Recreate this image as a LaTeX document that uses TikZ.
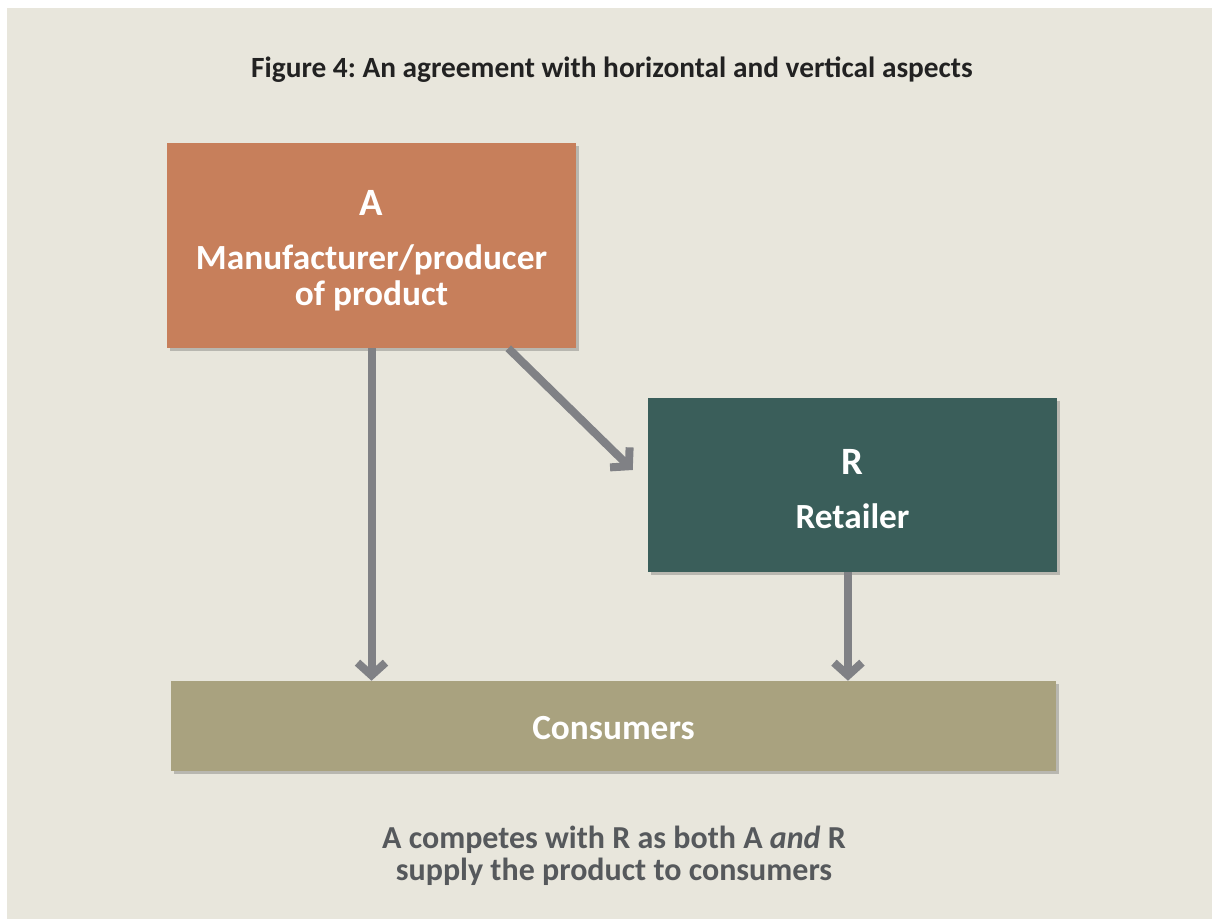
\documentclass[tikz,border=0pt]{standalone}
\usepackage{fontspec}
\setmainfont{Carlito}
\frenchspacing
\usetikzlibrary{arrows.meta,shadows}
\definecolor{bg}{HTML}{E8E6DC}
\definecolor{boxA}{HTML}{C77F5B}
\definecolor{boxR}{HTML}{3A5E5A}
\definecolor{boxC}{HTML}{A9A27F}
\definecolor{arrgray}{HTML}{808185}
\definecolor{titlecol}{HTML}{222222}
\definecolor{notecol}{HTML}{56595C}
\tikzset{
  box/.style={draw=none, inner sep=0pt, drop shadow={shadow xshift=2.5pt, shadow yshift=-2.5pt, opacity=0.3, fill=black!70}},
  boxtext/.style={text=white, font=\bfseries\fontsize{26.5}{28}\selectfont, anchor=base, inner sep=0pt},
  bigletter/.style={text=white, font=\bfseries\fontsize{29}{30}\selectfont, anchor=base, inner sep=0pt},
  arr/.style={draw=arrgray, line width=6pt, -{Straight Barb[sharp, length=9.5pt, width=21pt]}},
}
\begin{document}
\begin{tikzpicture}[x=0.75pt,y=-0.75pt]
\useasboundingbox (0,0) rectangle (1212,919);
\fill[white] (0,0) rectangle (1212,919);
\fill[bg] (7,8) rectangle (1212,919);

\node[font=\bfseries\fontsize{22}{24}\selectfont, text=titlecol, anchor=base, inner sep=0pt] (title) at (612,78) {Figure 4: An agreement with horizontal and vertical aspects};

\node[box, fill=boxA, minimum width=306.75pt, minimum height=153.75pt] (A) at (371.5,245.5) {};
\node[box, fill=boxR, minimum width=306.75pt, minimum height=130.5pt] (R) at (852.5,485) {};
\node[box, fill=boxC, minimum width=663.75pt, minimum height=67.5pt] (C) at (613.5,726) {};

\node[bigletter] (Aletter) at (371.5,216) {A};
\node[boxtext] (Aline1) at (371.5,270) {Manufacturer/producer};
\node[boxtext] (Aline2) at (371.5,306) {of product};
\node[bigletter] (Rletter) at (852.5,474) {R};
\node[boxtext] (Rline) at (852.5,528) {Retailer};
\node[boxtext] (Cline) at (613.5,739) {Consumers};

\draw[arr] (A.south) -- (A.south |- C.north);
\draw[arr] ([xshift=-3.4pt]R.south) -- ([xshift=-3.4pt]R.south |- C.north);
\draw[arr] ([xshift=-51pt]A.south east) -- ([xshift=-11.25pt,yshift=11.25pt]R.west);

\node[font=\bfseries\fontsize{24}{24}\selectfont, text=notecol, align=center, anchor=base, inner sep=0pt] (note) at (614,880) {A competes with R as both A \textit{and} R\\supply the product to consumers};
\end{tikzpicture}
\end{document}
